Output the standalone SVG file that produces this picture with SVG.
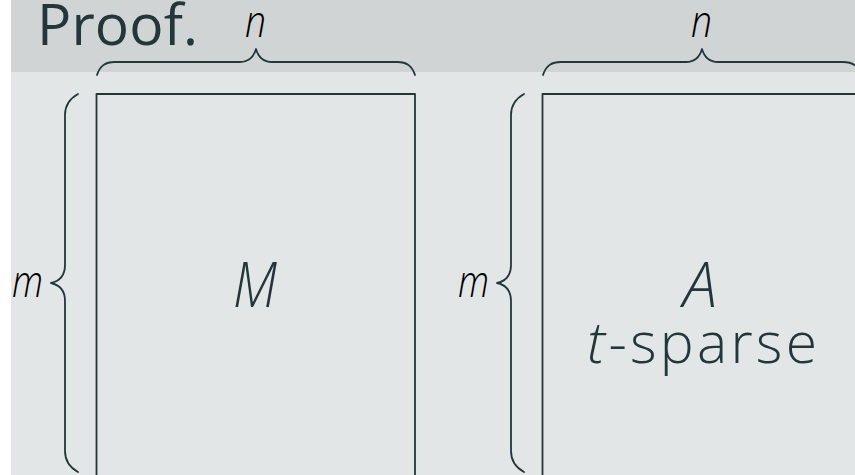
<svg xmlns="http://www.w3.org/2000/svg" width="855" height="475" viewBox="0 0 855 475">
  <style>
    .ink { fill: none; stroke: #23373b; stroke-width: 1.8; stroke-linecap: round; stroke-linejoin: round; }
    .title { font-family: "Open Sans", "Liberation Sans", sans-serif; font-size: 57px; fill: #23373b; }
    .math { font-family: "Open Sans", "Liberation Sans", sans-serif; font-style: italic; font-weight: 300; font-size: 44px; fill: #000000; }
    .big { font-family: "Open Sans", "Liberation Sans", sans-serif; font-weight: 300; fill: #23373b; }
  </style>
  <rect x="0" y="0" width="855" height="475" fill="#ffffff"/>
  <g id="background">
    <rect x="11" y="0" width="844" height="72" fill="#d0d4d5"/>
    <rect x="11" y="72" width="844" height="403" fill="#e2e6e7"/>
  </g>
  <g id="title">
    <text class="title" x="37" y="45" textLength="161">Proof.</text>
  </g>
  <g id="matrix-M">
    <rect class="ink" x="96.5" y="94" width="318.5" height="400"/>
    <text class="big" x="233" y="307" font-size="62" font-style="italic" textLength="44" lengthAdjust="spacingAndGlyphs">M</text>
  </g>
  <g id="matrix-A">
    <rect class="ink" x="542.5" y="94" width="318.5" height="400"/>
    <text class="big" x="683" y="307" font-size="62" font-style="italic" textLength="34" lengthAdjust="spacingAndGlyphs">A</text>
    <text class="big" x="587" y="363" font-size="57" textLength="230"><tspan font-style="italic">t</tspan>-sparse</text>
  </g>
  <g id="braces">
    <path class="ink" d="M97,75 C100,66 105,62 115,62 L240,62 C250,62 254,56 256,49 C258,56 262,62 272,62 L397,62 C407,62 412,66 415,75"/>
    <path class="ink" d="M78,94 C69,99 65,105 65,115 L65,265 C65,276 60,281 51,283 C60,285 65,290 65,301 L65,451 C65,461 69,467 78,472"/>
    <path class="ink" d="M543,75 C546,66 551,62 561,62 L686,62 C696,62 700,56 702,49 C704,56 708,62 718,62 L843,62 C853,62 858,66 861,75"/>
    <path class="ink" d="M524,94 C515,99 511,105 511,115 L511,265 C511,276 506,281 497,283 C506,285 511,290 511,301 L511,451 C511,461 515,467 524,472"/>
  </g>
  <g id="labels">
    <text class="math" x="245" y="37" textLength="21" lengthAdjust="spacingAndGlyphs">n</text>
    <text class="math" x="691" y="37" textLength="21" lengthAdjust="spacingAndGlyphs">n</text>
    <text class="math" x="12" y="297" textLength="31" lengthAdjust="spacingAndGlyphs">m</text>
    <text class="math" x="458" y="297" textLength="31" lengthAdjust="spacingAndGlyphs">m</text>
  </g>
</svg>
